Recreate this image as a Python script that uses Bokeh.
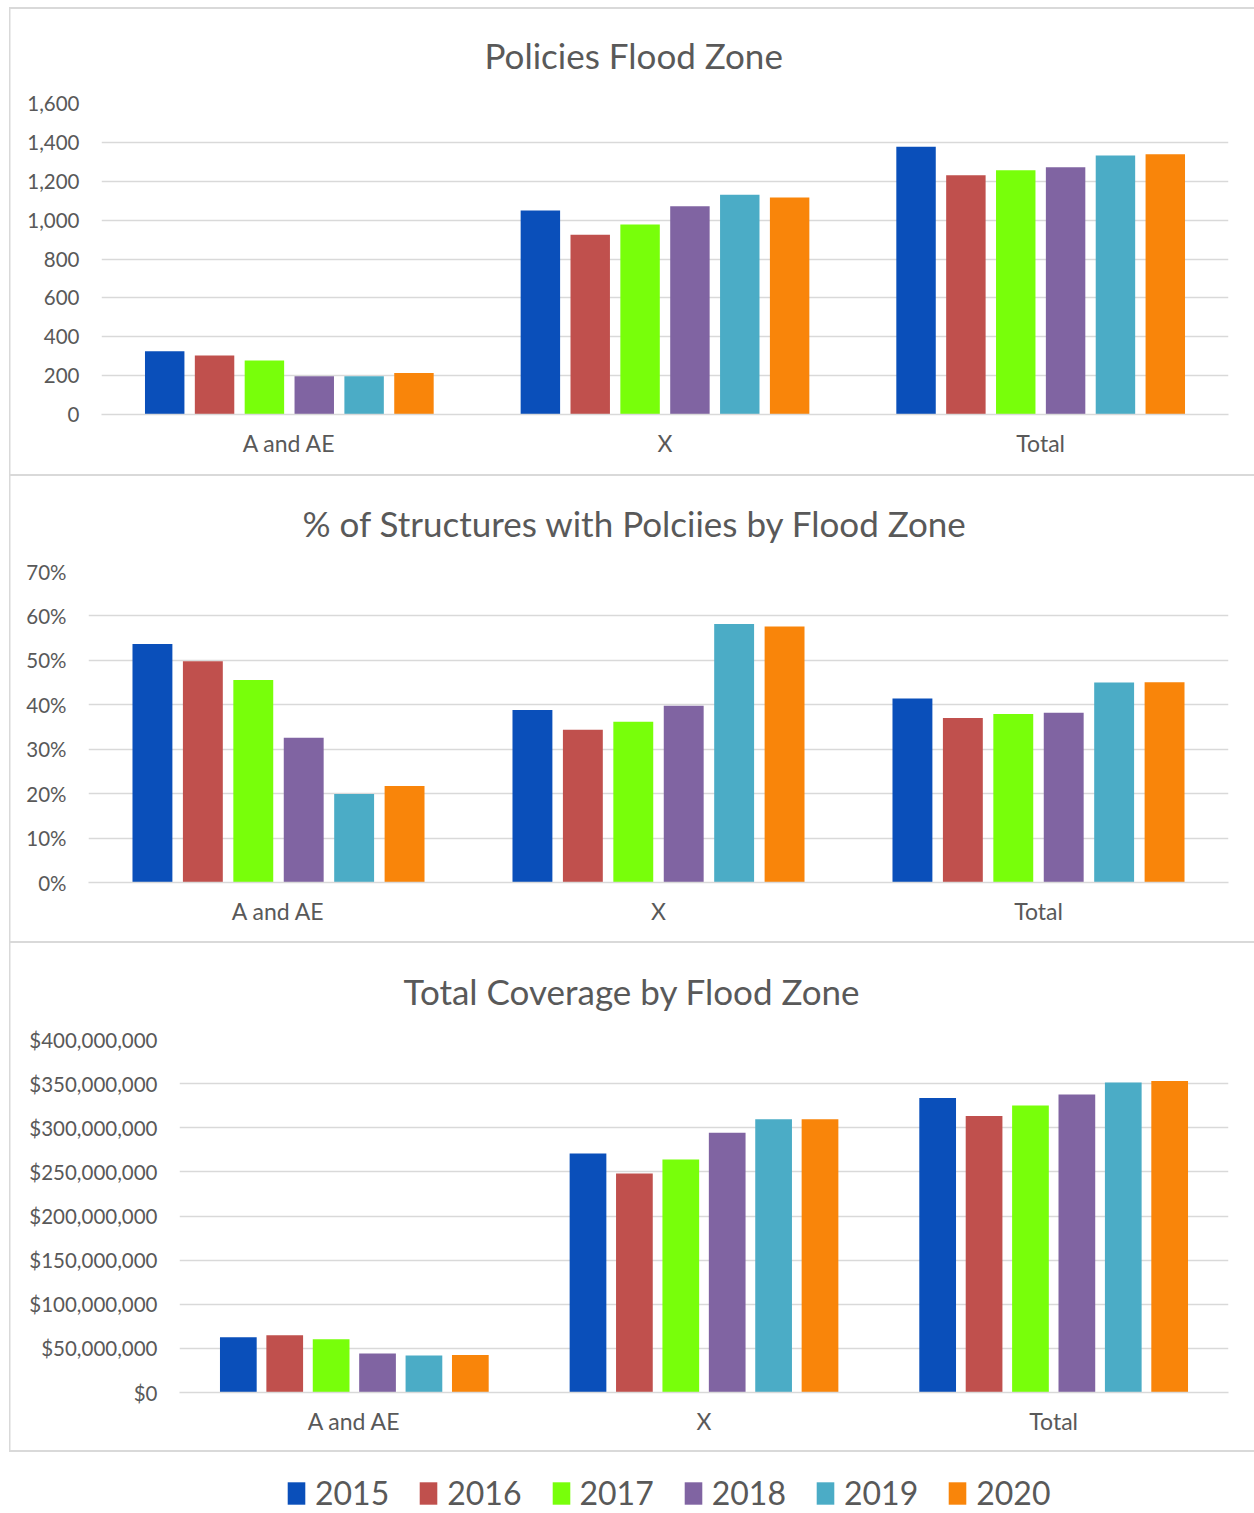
from bokeh.plotting import figure
from bokeh.models import (FactorRange, Range1d, FixedTicker, NumeralTickFormatter,
                          Legend, LegendItem, ColumnDataSource, Spacer)
from bokeh.transform import dodge
from bokeh.layouts import column, row
from bokeh.embed import file_html
from bokeh.resources import INLINE

zones = ["A and AE", "X", "Total"]
years = ["2015", "2016", "2017", "2018", "2019", "2020"]
colors = ["#0A4FBA", "#C0504D", "#78FF0A", "#8064A2", "#4BACC6", "#F9850A"]

# Policies by flood zone (count)
policies = {
    "2015": [325, 1049, 1378],
    "2016": [303, 925, 1231],
    "2017": [278, 978, 1256],
    "2018": [197, 1071, 1272],
    "2019": [197, 1131, 1332],
    "2020": [214, 1117, 1339],
}
policy_ticks = [0, 200, 400, 600, 800, 1000, 1200, 1400, 1600]

# % of structures with policies (fraction)
pct_structures = {
    "2015": [0.537, 0.388, 0.414],
    "2016": [0.498, 0.344, 0.370],
    "2017": [0.456, 0.362, 0.379],
    "2018": [0.326, 0.398, 0.382],
    "2019": [0.199, 0.582, 0.450],
    "2020": [0.217, 0.576, 0.451],
}
pct_ticks = [0, 0.1, 0.2, 0.3, 0.4, 0.5, 0.6, 0.7]

# Total coverage ($)
coverage = {
    "2015": [62.7e6, 270.8e6, 333.8e6],
    "2016": [65.0e6, 248.2e6, 313.4e6],
    "2017": [60.4e6, 264.0e6, 325.2e6],
    "2018": [44.2e6, 294.2e6, 337.7e6],
    "2019": [41.9e6, 309.7e6, 351.3e6],
    "2020": [42.6e6, 309.7e6, 353.1e6],
}
coverage_ticks = [0, 50e6, 100e6, 150e6, 200e6, 250e6, 300e6, 350e6, 400e6]

FONT = "Lato"
TXT = "#595959"
GRID = "#d9d9d9"
W = 1245
PITCH = 0.1327
BARW = 0.105


def make_chart(title, data, ticks, fmt, h, top, bottom, left, toff, bottom_line=False):
    shadow = "inset 1.5px 0 0 #d9d9d9, inset 0 2px 0 #d9d9d9"
    if bottom_line:
        shadow += ", inset 0 -2px 0 #d9d9d9"
    p = figure(x_range=FactorRange(factors=zones), y_range=Range1d(ticks[0], ticks[-1]),
               width=W, height=h, output_backend="svg", toolbar_location=None,
               min_border_top=top, min_border_bottom=bottom, min_border_left=left,
               min_border_right=26, border_fill_color=None, background_fill_color="white",
               outline_line_color=None, frame_align=False,
               styles={"box-shadow": shadow})
    src = ColumnDataSource(dict(zone=zones, **{y: data[y] for y in years}))
    for i, y in enumerate(years):
        p.vbar(x=dodge("zone", (i - 2.5) * PITCH, range=p.x_range), top=y, width=BARW,
               source=src, fill_color=colors[i], line_color=None)

    p.title.text = title
    p.title.align = "left"
    p.title.vertical_align = "top"
    p.title.offset = toff
    p.title.standoff = 52
    p.title.text_font = FONT
    p.title.text_font_size = "35px"
    p.title.text_font_style = "normal"
    p.title.text_color = TXT

    p.yaxis.ticker = FixedTicker(ticks=ticks)
    p.yaxis.formatter = NumeralTickFormatter(format=fmt)
    p.yaxis.axis_line_color = None
    p.yaxis.major_tick_line_color = None
    p.yaxis.minor_tick_line_color = None
    p.yaxis.major_label_standoff = 16
    p.yaxis.major_label_text_font = FONT
    p.yaxis.major_label_text_font_size = "20.5px"
    p.yaxis.major_label_text_color = TXT

    p.xaxis.axis_line_color = GRID
    p.xaxis.axis_line_width = 1.5
    p.xaxis.major_tick_line_color = None
    p.xaxis.minor_tick_line_color = None
    p.xaxis.major_label_standoff = 8
    p.xaxis.major_label_text_font = FONT
    p.xaxis.major_label_text_font_size = "23px"
    p.xaxis.major_label_text_color = TXT

    p.xgrid.grid_line_color = None
    p.ygrid.grid_line_color = GRID
    p.ygrid.grid_line_width = 1.5
    return p


p1 = make_chart("Policies Flood Zone", policies, policy_ticks, "0,0",
                467, 96, 60, 92, 383)
p2 = make_chart("% of Structures with Polciies by Flood Zone", pct_structures, pct_ticks, "0%",
                467, 97, 59, 79, 214)
p3 = make_chart("Total Coverage by Flood Zone", coverage, coverage_ticks, "$0,0",
                511, 98, 60, 170, 224, bottom_line=True)

leg = figure(width=W, height=61, x_range=Range1d(0, 1), y_range=Range1d(0, 1),
             output_backend="svg", toolbar_location=None, min_border=0,
             x_axis_location=None, y_axis_location=None, outline_line_color=None,
             frame_align=False, border_fill_color=None, background_fill_color=None)
leg.xgrid.grid_line_color = None
leg.ygrid.grid_line_color = None
items = []
for i, y in enumerate(years):
    r = leg.vbar(x=[5], top=[1], width=0.1, fill_color=colors[i], line_color=None)
    items.append(LegendItem(label=y, renderers=[r]))
legend = Legend(items=items, orientation="horizontal", location=(276, 1),
                glyph_width=22, glyph_height=28, label_standoff=8, spacing=28,
                padding=0, margin=0, border_line_color=None, background_fill_alpha=0,
                label_text_font=FONT, label_text_font_size="32px", label_text_color=TXT)
leg.add_layout(legend)

layout = row(Spacer(width=9, height=10),
             column(Spacer(width=10, height=7), p1, p2, p3, leg, spacing=0),
             spacing=0)
open("out.html", "w").write(file_html(layout, INLINE))
